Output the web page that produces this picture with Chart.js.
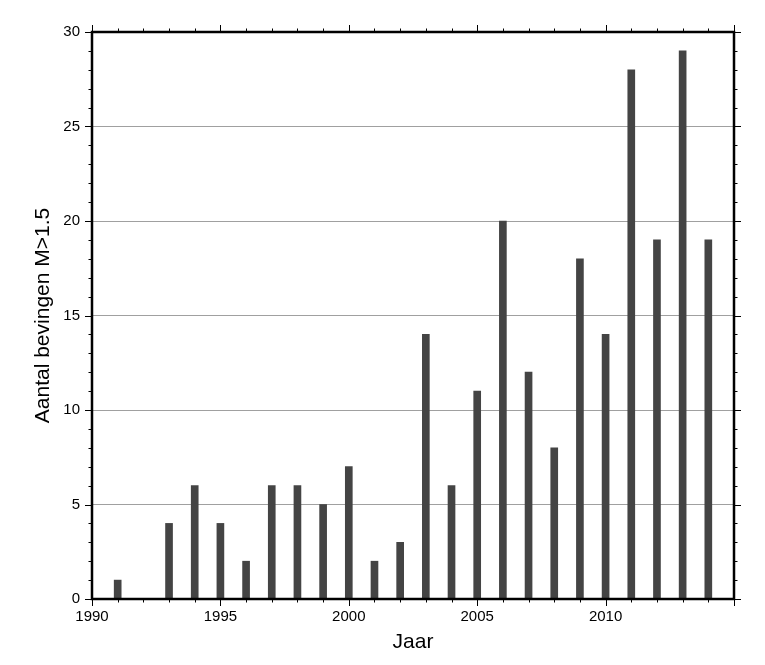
<!DOCTYPE html>
<html>
<head>
<meta charset="utf-8">
<script src="https://cdn.jsdelivr.net/npm/chart.js@4"></script>
<style>
  html, body { margin: 0; padding: 0; background: #fff; }
  #wrap { width: 765px; height: 665px; }
</style>
</head>
<body>
<div id="wrap"><canvas id="bevingenChart" width="765" height="665"></canvas></div>
<script>
// Jaren en aantal bevingen M>1.5
const jaren = [1991, 1992, 1993, 1994, 1995, 1996, 1997, 1998, 1999, 2000, 2001, 2002,
               2003, 2004, 2005, 2006, 2007, 2008, 2009, 2010, 2011, 2012, 2013, 2014];
const aantallen = [1, 0, 4, 6, 4, 2, 6, 6, 5, 7, 2, 3,
                   14, 6, 11, 20, 12, 8, 18, 14, 28, 19, 29, 19];
const xLabels = [1990, 1995, 2000, 2005, 2010];
const yLabels = [0, 5, 10, 15, 20, 25, 30];

const FONT = '"Liberation Sans", Arial, Helvetica, sans-serif';

// frame, ticks (major + minor on all four sides) and axis titles, GMT style
const framePlugin = {
    id: 'frame',
    afterDraw(chart) {
        const ctx = chart.ctx;
        const a = chart.chartArea;
        const xs = chart.scales.x, ys = chart.scales.y;
        ctx.save();
        ctx.strokeStyle = '#000';
        ctx.lineWidth = 1;
        ctx.beginPath();
        for (let v = xs.min; v <= xs.max; v++) {
            const px = Math.round(xs.getPixelForValue(v)) + 0.5;
            const len = v % 5 === 0 ? 7 : 3.5;
            ctx.moveTo(px, a.bottom); ctx.lineTo(px, a.bottom + len);
            ctx.moveTo(px, a.top); ctx.lineTo(px, a.top - len);
        }
        for (let v = ys.min; v <= ys.max; v++) {
            const py = Math.round(ys.getPixelForValue(v)) + 0.5;
            const len = v % 5 === 0 ? 7 : 3.5;
            ctx.moveTo(a.left, py); ctx.lineTo(a.left - len, py);
            ctx.moveTo(a.right, py); ctx.lineTo(a.right + len, py);
        }
        ctx.stroke();

        ctx.lineWidth = 2.5;
        ctx.strokeRect(a.left, a.top, a.right - a.left, a.bottom - a.top);

        ctx.fillStyle = '#000';
        ctx.font = '21px ' + FONT;
        ctx.textAlign = 'center';
        ctx.textBaseline = 'alphabetic';
        ctx.fillText('Jaar', (a.left + a.right) / 2, 648);
        ctx.translate(48.5, (a.top + a.bottom) / 2);
        ctx.rotate(-Math.PI / 2);
        ctx.fillText('Aantal bevingen M>1.5', 0, 0);
        ctx.restore();
    }
};

new Chart(document.getElementById('bevingenChart'), {
    type: 'bar',
    data: {
        datasets: [{
            label: 'Aantal bevingen',
            data: jaren.map((j, i) => ({ x: j, y: aantallen[i] })),
            backgroundColor: '#444444',
            borderWidth: 0,
            barThickness: 7
        }]
    },
    options: {
        responsive: false,
        animation: false,
        layout: { padding: { top: 32, right: 31, left: 0, bottom: 0 } },
        plugins: {
            legend: { display: false },
            tooltip: { enabled: false }
        },
        scales: {
            x: {
                type: 'linear',
                min: 1990,
                max: 2015,
                offset: false,
                afterFit: s => { s.height = 66; },
                afterBuildTicks: s => { s.ticks = xLabels.map(v => ({ value: v })); },
                grid: { display: false, drawTicks: false },
                border: { display: false },
                ticks: {
                    padding: 9,
                    color: '#000',
                    font: { family: FONT, size: 15 },
                    maxRotation: 0,
                    autoSkip: false,
                    callback: v => String(v)
                }
            },
            y: {
                min: 0,
                max: 30,
                afterFit: s => { s.width = 92; },
                afterBuildTicks: s => { s.ticks = yLabels.map(v => ({ value: v })); },
                grid: {
                    drawTicks: false,
                    color: '#a0a0a0',
                    lineWidth: 1
                },
                border: { display: false },
                ticks: {
                    padding: 12,
                    color: '#000',
                    font: { family: FONT, size: 15 }
                }
            }
        }
    },
    plugins: [framePlugin]
});
</script>
</body>
</html>
